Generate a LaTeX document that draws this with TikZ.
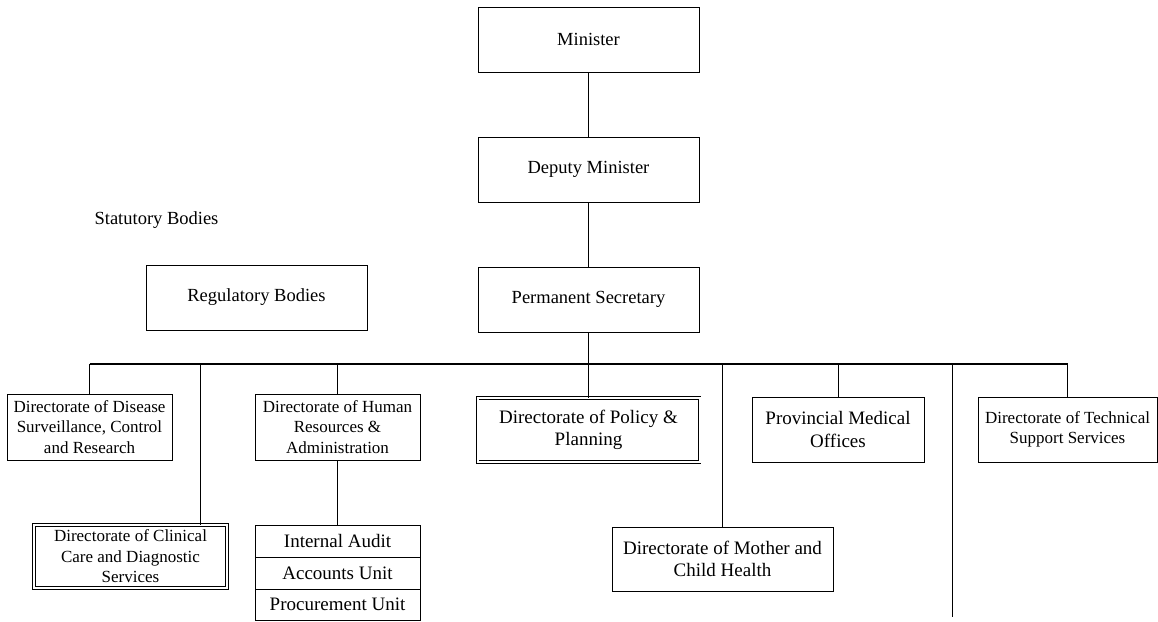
\documentclass[tikz,border=0pt]{standalone}
\usepackage{fontspec}
\setmainfont{Liberation Serif}

\begin{document}
\begin{tikzpicture}[x=1pt, y=-1pt]
        \tikzstyle{box} = [draw, line width=0.9pt, align=center, inner sep=1pt, minimum height=65pt]
        \tikzstyle{top box} = [box, minimum width=221pt, font=\fontsize{18.5}{22}\selectfont]
        \tikzstyle{small box} = [box, font=\fontsize{17}{20.5}\selectfont]
        \tikzstyle{big box} = [box, font=\fontsize{19}{22.5}\selectfont]
        \tikzstyle{double box} = [double, double distance=2pt, line width=0.9pt]
        \tikzstyle{unit box} = [big box, minimum width=165pt, minimum height=32pt]
        \tikzstyle{edge} = [line width=0.9pt]
        \tikzstyle{bus line} = [line width=1.2pt]

        \useasboundingbox (0, 0) rectangle (1158, 621);

        \node[top box](minister) at(588.5, 39.5) {Minister};
        \node[top box](deputy) at(588.5, 169.5) {Deputy Minister};
        \node[top box](permsec) at(588.5, 299.5) {Permanent Secretary};
        \node[top box](regulatory) at(256.5, 297.5) {Regulatory Bodies};
        \node[font=\fontsize{18.5}{22}\selectfont](statutory) at(156.5, 220) {Statutory Bodies};

        \node[small box, minimum width=165pt, minimum height=66pt](disease) at(89.5, 427) {Directorate of Disease\\Surveillance, Control\\and Research};
        \node[small box, minimum width=165pt, minimum height=66pt](hr) at(337.5, 427) {Directorate of Human\\Resources \&\\Administration};
        \node[big box, double box, minimum width=222pt, minimum height=64pt](policy) at(588.5, 430) {Directorate of Policy \&\\Planning};
        \node[big box, minimum width=172pt](pmo) at(838, 429.5) {Provincial Medical\\Offices};
        \node[small box, minimum width=179pt](technical) at(1067.5, 429.5) {Directorate of Technical\\Support Services};
        \node[small box, double box, minimum width=193pt, minimum height=63pt](clinical) at(130.5, 556.5) {Directorate of Clinical\\Care and Diagnostic\\Services};
        \node[big box, minimum width=221pt, minimum height=64pt](mother) at(722.5, 559) {Directorate of Mother and\\Child Health};

        \node[unit box](audit) at(337.5, 541) {Internal Audit};
        \node[unit box](accounts) at(337.5, 573) {Accounts Unit};
        \node[unit box, minimum height=31pt](procurement) at(337.5, 604.5) {Procurement Unit};

        \coordinate (bus) at(0, 364);
        \coordinate (clinical link) at(200, 0);
        \coordinate (spare end) at(952, 617);

        \draw[edge] (minister) -- (deputy);
        \draw[edge] (deputy) -- (permsec);
        \draw[edge] (permsec) -- (policy);
        \draw[bus line] (disease.north |- bus) -- (technical.north |- bus);
        \draw[edge] (disease.north |- bus) -- (disease.north);
        \draw[edge] (clinical link |- bus) -- (clinical link |- clinical.north);
        \draw[edge] (hr.north |- bus) -- (hr.north);
        \draw[edge] (hr) -- (audit);
        \draw[edge] (mother.north |- bus) -- (mother.north);
        \draw[edge] (pmo.north |- bus) -- (pmo.north);
        \draw[edge] (spare end |- bus) -- (spare end);
        \draw[edge] (technical.north |- bus) -- (technical.north);
    \end{tikzpicture}
\end{document}
